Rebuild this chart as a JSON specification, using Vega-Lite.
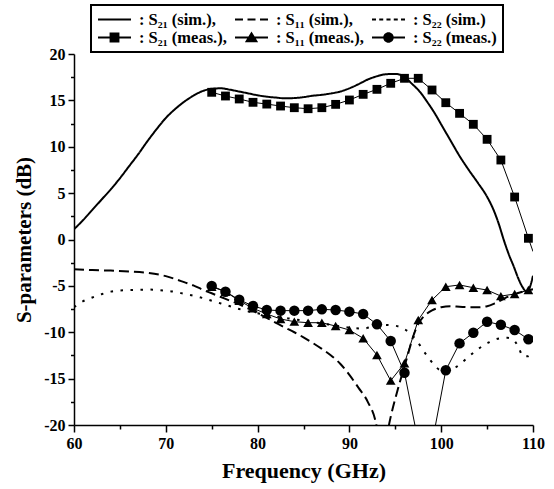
{
  "$schema": "https://vega.github.io/schema/vega-lite/v6.json",
  "width": 459,
  "height": 371,
  "autosize": "none",
  "padding": {"left": 74, "top": 54, "right": 21, "bottom": 64},
  "background": "white",
  "config": {
    "view": {"stroke": null},
    "axis": {
      "labelFont": "Liberation Serif", "labelFontWeight": "bold", "labelFontSize": 16, "labelColor": "black",
      "titleFont": "Liberation Serif", "titleFontWeight": "bold", "titleFontSize": 22, "titleColor": "black",
      "domainColor": "black", "domainWidth": 1.5, "tickColor": "black", "tickWidth": 1.5, "grid": false,
      "labelOverlap": false, "labelFlush": false
    },
    "legend": {"strokeWidth": 2}
  },
  "datasets": {
    "curves": [
      {"s": "S21 sim", "f": 60, "v": 1.1}, {"s": "S21 sim", "f": 61, "v": 2.1}, {"s": "S21 sim", "f": 62, "v": 3.2},
      {"s": "S21 sim", "f": 63, "v": 4.3}, {"s": "S21 sim", "f": 64, "v": 5.4}, {"s": "S21 sim", "f": 65, "v": 6.6},
      {"s": "S21 sim", "f": 66, "v": 7.9}, {"s": "S21 sim", "f": 67, "v": 9.2}, {"s": "S21 sim", "f": 68, "v": 10.6},
      {"s": "S21 sim", "f": 69, "v": 11.9}, {"s": "S21 sim", "f": 70, "v": 13.1}, {"s": "S21 sim", "f": 71, "v": 14.05},
      {"s": "S21 sim", "f": 72, "v": 14.85}, {"s": "S21 sim", "f": 73, "v": 15.5}, {"s": "S21 sim", "f": 74, "v": 16.0},
      {"s": "S21 sim", "f": 75, "v": 16.25}, {"s": "S21 sim", "f": 76, "v": 16.3}, {"s": "S21 sim", "f": 77, "v": 16.15},
      {"s": "S21 sim", "f": 78, "v": 15.95}, {"s": "S21 sim", "f": 79, "v": 15.75}, {"s": "S21 sim", "f": 80, "v": 15.55},
      {"s": "S21 sim", "f": 81, "v": 15.4}, {"s": "S21 sim", "f": 82, "v": 15.3}, {"s": "S21 sim", "f": 83, "v": 15.22},
      {"s": "S21 sim", "f": 84, "v": 15.25}, {"s": "S21 sim", "f": 85, "v": 15.35}, {"s": "S21 sim", "f": 86, "v": 15.5},
      {"s": "S21 sim", "f": 87, "v": 15.6}, {"s": "S21 sim", "f": 88, "v": 15.75}, {"s": "S21 sim", "f": 89, "v": 15.95},
      {"s": "S21 sim", "f": 90, "v": 16.3}, {"s": "S21 sim", "f": 91, "v": 16.75}, {"s": "S21 sim", "f": 92, "v": 17.25},
      {"s": "S21 sim", "f": 93, "v": 17.6}, {"s": "S21 sim", "f": 94, "v": 17.82}, {"s": "S21 sim", "f": 95, "v": 17.85},
      {"s": "S21 sim", "f": 95.9, "v": 17.6}, {"s": "S21 sim", "f": 96.8, "v": 16.8}, {"s": "S21 sim", "f": 97.7, "v": 15.9},
      {"s": "S21 sim", "f": 98.5, "v": 14.8}, {"s": "S21 sim", "f": 99.3, "v": 13.6}, {"s": "S21 sim", "f": 100, "v": 12.4},
      {"s": "S21 sim", "f": 101, "v": 10.7}, {"s": "S21 sim", "f": 102, "v": 9.0}, {"s": "S21 sim", "f": 103, "v": 7.5},
      {"s": "S21 sim", "f": 104, "v": 6.1}, {"s": "S21 sim", "f": 105, "v": 4.6}, {"s": "S21 sim", "f": 105.7, "v": 3.2},
      {"s": "S21 sim", "f": 106.3, "v": 1.6}, {"s": "S21 sim", "f": 106.8, "v": 0.0}, {"s": "S21 sim", "f": 107.4, "v": -1.7},
      {"s": "S21 sim", "f": 107.9, "v": -2.9}, {"s": "S21 sim", "f": 108.4, "v": -4.2}, {"s": "S21 sim", "f": 108.9, "v": -5.2},
      {"s": "S21 sim", "f": 109.2, "v": -5.55}, {"s": "S21 sim", "f": 109.5, "v": -5.45}, {"s": "S21 sim", "f": 109.8, "v": -4.7},
      {"s": "S21 sim", "f": 110, "v": -3.9},

      {"s": "S11 sim", "f": 60, "v": -3.2}, {"s": "S11 sim", "f": 62, "v": -3.3}, {"s": "S11 sim", "f": 64, "v": -3.35},
      {"s": "S11 sim", "f": 66, "v": -3.45}, {"s": "S11 sim", "f": 68, "v": -3.6}, {"s": "S11 sim", "f": 70, "v": -3.95},
      {"s": "S11 sim", "f": 71, "v": -4.25}, {"s": "S11 sim", "f": 72, "v": -4.6}, {"s": "S11 sim", "f": 73, "v": -4.95},
      {"s": "S11 sim", "f": 74, "v": -5.4}, {"s": "S11 sim", "f": 75, "v": -5.8}, {"s": "S11 sim", "f": 76, "v": -6.2},
      {"s": "S11 sim", "f": 77, "v": -6.6}, {"s": "S11 sim", "f": 78, "v": -7.0}, {"s": "S11 sim", "f": 79, "v": -7.45},
      {"s": "S11 sim", "f": 80, "v": -7.95}, {"s": "S11 sim", "f": 81, "v": -8.45}, {"s": "S11 sim", "f": 82, "v": -9.0},
      {"s": "S11 sim", "f": 83, "v": -9.5}, {"s": "S11 sim", "f": 84, "v": -10.0}, {"s": "S11 sim", "f": 85, "v": -10.55},
      {"s": "S11 sim", "f": 86, "v": -11.15}, {"s": "S11 sim", "f": 87, "v": -11.8}, {"s": "S11 sim", "f": 88, "v": -12.5},
      {"s": "S11 sim", "f": 89, "v": -13.4}, {"s": "S11 sim", "f": 90, "v": -14.6}, {"s": "S11 sim", "f": 91, "v": -16.0},
      {"s": "S11 sim", "f": 92, "v": -17.5}, {"s": "S11 sim", "f": 92.9, "v": -19.8}, {"s": "S11 sim", "f": 93.6, "v": -24},
      {"s": "S11 sim", "f": 94.35, "v": -19.8}, {"s": "S11 sim", "f": 95.15, "v": -16.6}, {"s": "S11 sim", "f": 96.2, "v": -13.0},
      {"s": "S11 sim", "f": 97, "v": -10.3}, {"s": "S11 sim", "f": 97.5, "v": -9.1}, {"s": "S11 sim", "f": 98, "v": -8.4},
      {"s": "S11 sim", "f": 98.5, "v": -7.95}, {"s": "S11 sim", "f": 99, "v": -7.65}, {"s": "S11 sim", "f": 100, "v": -7.3},
      {"s": "S11 sim", "f": 101, "v": -7.2}, {"s": "S11 sim", "f": 102, "v": -7.25}, {"s": "S11 sim", "f": 103, "v": -7.3},
      {"s": "S11 sim", "f": 104, "v": -7.3}, {"s": "S11 sim", "f": 105, "v": -7.2}, {"s": "S11 sim", "f": 106, "v": -6.8},
      {"s": "S11 sim", "f": 107, "v": -6.3}, {"s": "S11 sim", "f": 108, "v": -5.9}, {"s": "S11 sim", "f": 109, "v": -5.6},
      {"s": "S11 sim", "f": 110, "v": -5.35},

      {"s": "S22 sim", "f": 60, "v": -7.3}, {"s": "S22 sim", "f": 61, "v": -6.65}, {"s": "S22 sim", "f": 62, "v": -6.25},
      {"s": "S22 sim", "f": 63, "v": -5.9}, {"s": "S22 sim", "f": 64, "v": -5.62}, {"s": "S22 sim", "f": 65, "v": -5.5},
      {"s": "S22 sim", "f": 66, "v": -5.45}, {"s": "S22 sim", "f": 67, "v": -5.43}, {"s": "S22 sim", "f": 68, "v": -5.4},
      {"s": "S22 sim", "f": 69, "v": -5.43}, {"s": "S22 sim", "f": 70, "v": -5.52}, {"s": "S22 sim", "f": 71, "v": -5.65},
      {"s": "S22 sim", "f": 72, "v": -5.85}, {"s": "S22 sim", "f": 73, "v": -6.05}, {"s": "S22 sim", "f": 74, "v": -6.3},
      {"s": "S22 sim", "f": 75, "v": -6.6}, {"s": "S22 sim", "f": 76, "v": -6.9}, {"s": "S22 sim", "f": 77, "v": -7.2},
      {"s": "S22 sim", "f": 78, "v": -7.5}, {"s": "S22 sim", "f": 79, "v": -7.75}, {"s": "S22 sim", "f": 80, "v": -7.95},
      {"s": "S22 sim", "f": 82, "v": -8.3}, {"s": "S22 sim", "f": 84, "v": -8.6}, {"s": "S22 sim", "f": 86, "v": -8.9},
      {"s": "S22 sim", "f": 88, "v": -9.2}, {"s": "S22 sim", "f": 90, "v": -9.5}, {"s": "S22 sim", "f": 91.5, "v": -9.6},
      {"s": "S22 sim", "f": 92.5, "v": -9.4}, {"s": "S22 sim", "f": 93.7, "v": -9.2}, {"s": "S22 sim", "f": 95, "v": -9.3},
      {"s": "S22 sim", "f": 95.9, "v": -9.6}, {"s": "S22 sim", "f": 96.6, "v": -10.1}, {"s": "S22 sim", "f": 97.3, "v": -10.85},
      {"s": "S22 sim", "f": 98, "v": -11.9}, {"s": "S22 sim", "f": 98.8, "v": -13.0}, {"s": "S22 sim", "f": 99.4, "v": -13.7},
      {"s": "S22 sim", "f": 99.9, "v": -14.07}, {"s": "S22 sim", "f": 100.8, "v": -14.1}, {"s": "S22 sim", "f": 101.7, "v": -13.7},
      {"s": "S22 sim", "f": 102.8, "v": -12.8}, {"s": "S22 sim", "f": 103.9, "v": -11.9}, {"s": "S22 sim", "f": 105.2, "v": -11.1},
      {"s": "S22 sim", "f": 106.4, "v": -10.65}, {"s": "S22 sim", "f": 107.2, "v": -10.6}, {"s": "S22 sim", "f": 107.9, "v": -10.84},
      {"s": "S22 sim", "f": 108.5, "v": -11.8}, {"s": "S22 sim", "f": 108.9, "v": -12.6}, {"s": "S22 sim", "f": 109.4, "v": -12.6},
      {"s": "S22 sim", "f": 110, "v": -12.1},

      {"s": "S21 meas", "f": 75, "v": 15.87}, {"s": "S21 meas", "f": 76.5, "v": 15.47}, {"s": "S21 meas", "f": 78, "v": 15.15},
      {"s": "S21 meas", "f": 79.5, "v": 14.79}, {"s": "S21 meas", "f": 81, "v": 14.6}, {"s": "S21 meas", "f": 82.5, "v": 14.39},
      {"s": "S21 meas", "f": 84, "v": 14.21}, {"s": "S21 meas", "f": 85.5, "v": 14.1}, {"s": "S21 meas", "f": 87, "v": 14.21},
      {"s": "S21 meas", "f": 88.5, "v": 14.57}, {"s": "S21 meas", "f": 90, "v": 15.04}, {"s": "S21 meas", "f": 91.5, "v": 15.65},
      {"s": "S21 meas", "f": 93, "v": 16.19}, {"s": "S21 meas", "f": 94.5, "v": 16.84}, {"s": "S21 meas", "f": 96, "v": 17.38},
      {"s": "S21 meas", "f": 97.5, "v": 17.38}, {"s": "S21 meas", "f": 99, "v": 16.12}, {"s": "S21 meas", "f": 100.5, "v": 14.75},
      {"s": "S21 meas", "f": 102, "v": 13.6}, {"s": "S21 meas", "f": 103.5, "v": 12.42}, {"s": "S21 meas", "f": 105, "v": 10.8},
      {"s": "S21 meas", "f": 106.5, "v": 8.57}, {"s": "S21 meas", "f": 108, "v": 4.58}, {"s": "S21 meas", "f": 109.5, "v": 0.13},
      {"s": "S21 meas", "f": 110, "v": -1.3},

      {"s": "S11 meas", "f": 75, "v": -5.09}, {"s": "S11 meas", "f": 76.5, "v": -5.63}, {"s": "S11 meas", "f": 78, "v": -6.6},
      {"s": "S11 meas", "f": 79.5, "v": -7.42}, {"s": "S11 meas", "f": 81, "v": -8.03}, {"s": "S11 meas", "f": 82.5, "v": -8.57},
      {"s": "S11 meas", "f": 84, "v": -8.86}, {"s": "S11 meas", "f": 85.5, "v": -8.97}, {"s": "S11 meas", "f": 87, "v": -8.97},
      {"s": "S11 meas", "f": 88.5, "v": -9.33}, {"s": "S11 meas", "f": 90, "v": -9.76}, {"s": "S11 meas", "f": 91.5, "v": -10.65},
      {"s": "S11 meas", "f": 93, "v": -12.45}, {"s": "S11 meas", "f": 94.5, "v": -15.22}, {"s": "S11 meas", "f": 96, "v": -13.35},
      {"s": "S11 meas", "f": 97.5, "v": -8.68}, {"s": "S11 meas", "f": 99, "v": -6.52}, {"s": "S11 meas", "f": 100.5, "v": -5.09},
      {"s": "S11 meas", "f": 102, "v": -4.9}, {"s": "S11 meas", "f": 103.5, "v": -5.2}, {"s": "S11 meas", "f": 105, "v": -5.45},
      {"s": "S11 meas", "f": 106.5, "v": -6.1}, {"s": "S11 meas", "f": 108, "v": -5.88}, {"s": "S11 meas", "f": 109.5, "v": -5.45},
      {"s": "S11 meas", "f": 110, "v": -5.4},

      {"s": "S22 meas", "f": 75, "v": -5.0}, {"s": "S22 meas", "f": 76.5, "v": -5.63}, {"s": "S22 meas", "f": 78, "v": -6.5},
      {"s": "S22 meas", "f": 79.5, "v": -7.17}, {"s": "S22 meas", "f": 81, "v": -7.6}, {"s": "S22 meas", "f": 82.5, "v": -7.67},
      {"s": "S22 meas", "f": 84, "v": -7.67}, {"s": "S22 meas", "f": 85.5, "v": -7.67}, {"s": "S22 meas", "f": 87, "v": -7.53},
      {"s": "S22 meas", "f": 88.5, "v": -7.6}, {"s": "S22 meas", "f": 90, "v": -7.78}, {"s": "S22 meas", "f": 91.5, "v": -8.03},
      {"s": "S22 meas", "f": 93, "v": -9.15}, {"s": "S22 meas", "f": 94.5, "v": -10.94}, {"s": "S22 meas", "f": 96, "v": -14.36},
      {"s": "S22 meas", "f": 97.5, "v": -21.8}, {"s": "S22 meas", "f": 99, "v": -22.0}, {"s": "S22 meas", "f": 100.5, "v": -14.1},
      {"s": "S22 meas", "f": 102, "v": -11.2}, {"s": "S22 meas", "f": 103.5, "v": -10.05}, {"s": "S22 meas", "f": 105, "v": -8.86},
      {"s": "S22 meas", "f": 106.5, "v": -9.2}, {"s": "S22 meas", "f": 108, "v": -9.76}, {"s": "S22 meas", "f": 109.5, "v": -10.76},
      {"s": "S22 meas", "f": 110, "v": -11.0}
    ],
    "legendItems": [
      {"s": "S21 sim"}, {"s": "S11 sim"}, {"s": "S22 sim"},
      {"s": "S21 meas"}, {"s": "S11 meas"}, {"s": "S22 meas"}
    ]
  },
  "encoding": {
    "x": {
      "field": "f", "type": "quantitative",
      "scale": {"domain": [60, 110], "nice": false, "zero": false},
      "axis": {
        "title": "Frequency (GHz)",
        "values": [60, 65, 70, 75, 80, 85, 90, 95, 100, 105, 110],
        "labelExpr": "datum.value % 10 === 0 ? '' + datum.value : ''",
        "tickSize": {"condition": {"test": "datum.value % 10 === 0", "value": 7}, "value": 4},
        "labelPadding": 3,
        "titlePadding": 9
      }
    },
    "y": {
      "field": "v", "type": "quantitative",
      "scale": {"domain": [-20, 20], "nice": false, "zero": false},
      "axis": {
        "title": "S-parameters (dB)",
        "titleFontSize": 21,
        "values": [-20, -17.5, -15, -12.5, -10, -7.5, -5, -2.5, 0, 2.5, 5, 7.5, 10, 12.5, 15, 17.5, 20],
        "labelExpr": "datum.value % 5 === 0 ? '' + datum.value : ''",
        "tickSize": {"condition": {"test": "datum.value % 5 === 0", "value": 6}, "value": 3.5},
        "labelPadding": 3,
        "titlePadding": 9
      }
    }
  },
  "layer": [
    {
      "data": {"name": "curves"},
      "transform": [{"filter": {"field": "s", "oneOf": ["S21 sim", "S11 sim", "S22 sim"]}}],
      "mark": {"type": "line", "color": "black", "strokeWidth": 2, "interpolate": "monotone", "clip": true},
      "encoding": {
        "strokeDash": {
          "field": "s", "type": "nominal",
          "scale": {"domain": ["S21 sim", "S11 sim", "S22 sim"], "range": [[1, 0], [10, 5], [2.5, 7.5]]},
          "legend": null
        }
      }
    },
    {
      "data": {"name": "curves"},
      "transform": [{"filter": {"field": "s", "oneOf": ["S21 meas", "S11 meas", "S22 meas"]}}],
      "mark": {"type": "line", "color": "black", "strokeWidth": 1, "clip": true},
      "encoding": {"detail": {"field": "s", "type": "nominal"}}
    },
    {
      "data": {"name": "curves"},
      "transform": [
        {"filter": {"field": "s", "oneOf": ["S21 meas", "S11 meas", "S22 meas"]}},
        {"filter": "datum.f < 110"}
      ],
      "mark": {"type": "point", "filled": true, "color": "black", "opacity": 1, "clip": true},
      "encoding": {
        "shape": {
          "field": "s", "type": "nominal",
          "scale": {"domain": ["S21 meas", "S11 meas", "S22 meas"], "range": ["square", "triangle-up", "circle"]},
          "legend": null
        },
        "size": {
          "field": "s", "type": "nominal",
          "scale": {"domain": ["S21 meas", "S11 meas", "S22 meas"], "range": [78, 110, 85]},
          "legend": null
        }
      }
    },
    {
      "data": {"name": "legendItems"},
      "mark": {"type": "point", "filled": true, "color": "black", "opacity": 0},
      "encoding": {
        "x": null,
        "y": null,
        "shape": {
          "field": "s", "type": "nominal",
          "scale": {
            "domain": ["S21 sim", "S11 sim", "S22 sim", "S21 meas", "S11 meas", "S22 meas"],
            "range": [
              "M-1.94,-0.12H1.94V0.12H-1.94Z",
              "M-1.94,-0.12H-1V0.12H-1.94Z M-0.47,-0.12H0.47V0.12H-0.47Z M1,-0.12H1.94V0.12H1Z",
              "M-1.94,-0.12H-1.47V0.12H-1.94Z M-1.09,-0.12H-0.62V0.12H-1.09Z M-0.24,-0.12H0.24V0.12H-0.24Z M0.62,-0.12H1.09V0.12H0.62Z M1.47,-0.12H1.94V0.12H1.47Z",
              "M-1.94,-0.12H1.94V0.12H-1.94Z M-0.58,-0.58H0.58V0.58H-0.58Z",
              "M-1.94,-0.12H1.94V0.12H-1.94Z M0,-0.7L0.78,0.55H-0.78Z",
              "M-1.94,-0.12H1.94V0.12H-1.94Z M-0.62,0A0.62,0.62 0 1,1 0.62,0A0.62,0.62 0 1,1 -0.62,0Z"
            ]
          },
          "legend": {
            "title": null,
            "orient": "none",
            "legendX": 17,
            "legendY": -49,
            "columns": 3,
            "direction": "horizontal",
            "gridAlign": "none",
            "padding": 6,
            "strokeColor": "black",
            "fillColor": "white",
            "symbolSize": 289,
            "symbolOffset": 9,
            "symbolStrokeWidth": 0,
            "symbolOpacity": 1,
            "labelOffset": 16,
            "labelFont": "Liberation Serif",
            "labelFontSize": 16.5,
            "labelFontWeight": "bold",
            "labelColor": "black",
            "labelLimit": 300,
            "columnPadding": 7,
            "rowPadding": 1,
            "labelExpr": "datum.label == 'S21 sim' ? ': S₂₁ (sim.),' : datum.label == 'S11 sim' ? ': S₁₁ (sim.),' : datum.label == 'S22 sim' ? ': S₂₂ (sim.)' : datum.label == 'S21 meas' ? ': S₂₁ (meas.),' : datum.label == 'S11 meas' ? ': S₁₁ (meas.),' : ': S₂₂ (meas.)'",
            "encode": {
              "symbols": {"update": {"opacity": {"value": 1}, "fill": {"value": "black"}}}
            }
          }
        }
      }
    }
  ],
  "resolve": {"scale": {"shape": "independent"}}
}
